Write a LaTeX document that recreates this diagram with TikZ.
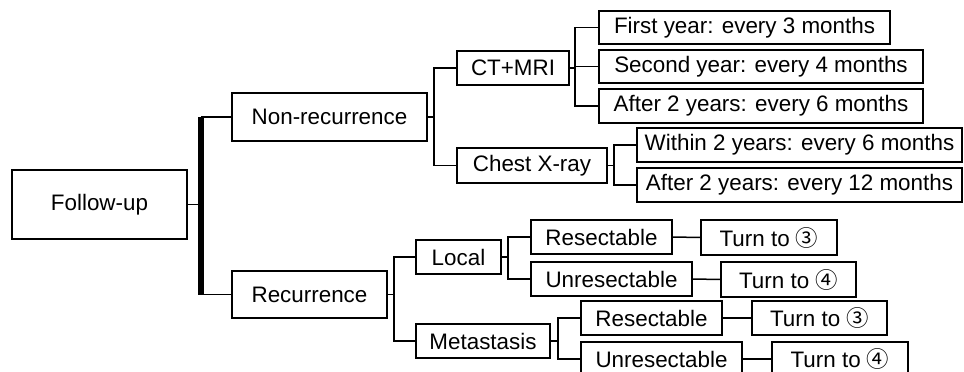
\documentclass[tikz,border=0pt]{standalone}
\usepackage{fontspec}
\setmainfont{Liberation Sans}
\newfontfamily\circfont{Noto Sans CJK SC}
\newcommand{\circthree}{{\circfont ③}}
\newcommand{\circfour}{{\circfont ④}}
\tikzset{
  box/.style={draw=black, line width=1.5pt, rectangle, inner sep=0pt,
              font=\fontsize{22.4}{26}\selectfont, text=black},
  link/.style={draw=black, line width=1.5pt},
  bus/.style={draw=black, line width=6pt},
}
\begin{document}
\begin{tikzpicture}[x=1pt, y=-1pt]
\clip (0,0) rectangle (964,372);
\fill[white] (0,0) rectangle (964,372);

% root and first level
\node[box, minimum width=175pt, minimum height=69pt] (fu) at (99.5,204.5) {Follow-up};
\node[box, minimum width=195pt, minimum height=48pt] (nr) at (329.5,117) {Non-recurrence};
\node[box, minimum width=155pt, minimum height=47pt] (rc) at (309.5,294.5) {Recurrence};

% non-recurrence branch
\node[box, minimum width=112pt, minimum height=34pt] (ct) at (513,68) {CT+MRI};
\node[box, minimum width=150pt, minimum height=35pt] (cx) at (532,165.5) {Chest X-ray};
\node[box, minimum width=291pt, minimum height=33pt] (ct1) at (744.5,27.5) {First year: every 3 months};
\node[box, minimum width=324pt, minimum height=33pt] (ct2) at (761,66.5) {Second year: every 4 months};
\node[box, minimum width=324pt, minimum height=34pt] (ct3) at (761,106) {After 2 years: every 6 months};
\node[box, minimum width=325pt, minimum height=34pt] (cx1) at (799.5,145) {Within 2 years: every 6 months};
\node[box, minimum width=325pt, minimum height=34pt] (cx2) at (799.5,185) {After 2 years: every 12 months};

% recurrence branch
\node[box, minimum width=85pt, minimum height=34pt] (lo) at (458.5,257) {Local};
\node[box, minimum width=134pt, minimum height=34pt] (me) at (483,341) {Metastasis};
\node[box, minimum width=141pt, minimum height=34pt] (lr) at (601.5,237) {Resectable};
\node[box, minimum width=161pt, minimum height=34pt] (lu) at (611.5,279) {Unresectable};
\node[box, minimum width=136pt, minimum height=35pt] (lt3) at (769,237.5) {Turn to \circthree};
\node[box, minimum width=135pt, minimum height=35pt] (lt4) at (788.5,279.5) {Turn to \circfour};
\node[box, minimum width=141pt, minimum height=34pt] (mr) at (651.5,318) {Resectable};
\node[box, minimum width=161pt, minimum height=34pt] (mu) at (661.5,359) {Unresectable};
\node[box, minimum width=135pt, minimum height=34pt] (mt3) at (819.5,318) {Turn to \circthree};
\node[box, minimum width=136pt, minimum height=34pt] (mt4) at (840,359) {Turn to \circfour};

% root fork with its heavy bus bar
\coordinate (fb) at ([xshift=13pt]fu.east);
\draw[link] (fu.east) -- (fb);
\draw[link] (fb |- nr.west) -- (nr.west);
\draw[link] (fb |- rc.west) -- (rc.west);
\draw[bus] (fb |- nr.west) -- (fb |- rc.west);

% tree forks
\foreach \p/\d/\c in {nr/6/ct, nr/6/cx,
                      ct/5/ct1, ct/5/ct2, ct/5/ct3,
                      cx/6/cx1, cx/6/cx2,
                      rc/6/lo, rc/6/me,
                      lo/6/lr, lo/6/lu,
                      me/7/mr, me/7/mu}
  \draw[link] (\p.east) -- ++(\d,0) |- (\c.west);

% straight links to the next step
\draw[link] (lr.east) -- (lt3.west);
\draw[link] (lu.east) -- (lt4.west);
\draw[link] (mr.east) -- (mt3.west);
\draw[link] (mu.east) -- (mt4.west);
\end{tikzpicture}
\end{document}
